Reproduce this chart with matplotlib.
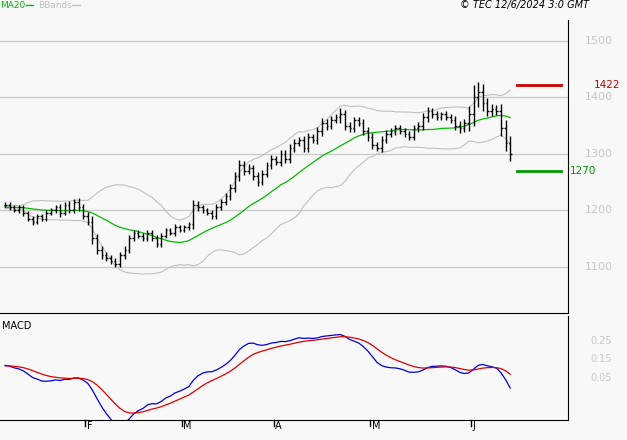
import numpy as np
import matplotlib
matplotlib.use("Agg")
import matplotlib.pyplot as plt

closes = [1210,1205,1200,1205,1195,1185,1180,1190,1185,1195,1200,1205,1195,1210,1200,1215,1205,1190,
          1180,1150,1130,1120,1115,1110,1105,1120,1130,1150,1160,1155,1150,1160,1150,1140,1155,1165,1160,1170,1165,
          1170,1175,1210,1205,1200,1195,1190,1205,1215,1225,1240,1260,1280,1270,1275,1260,1250,1265,1280,1290,
          1285,1300,1290,1310,1320,1325,1310,1330,1325,1340,1355,1350,1360,1365,1370,1350,1345,1360,1355,1340,1330,
          1315,1310,1325,1335,1340,1345,1340,1335,1330,1345,1350,1365,1375,1370,1365,1370,1365,1360,1350,1345,1355,1370,
          1400,1410,1390,1375,1380,1375,1345,1320,1300]
ranges = [14,12,10,12,14,12,16,12,10,14,12,14,18,12,16,14,20,16,
          18,30,22,20,16,14,18,16,18,16,14,12,14,14,12,16,14,12,12,14,12,
          12,14,24,18,14,12,16,18,14,16,18,20,24,22,18,16,20,16,18,20,
          16,20,18,20,18,16,20,18,16,20,24,20,18,16,30,24,18,16,14,18,20,
          18,16,20,18,16,18,16,14,16,18,16,20,24,18,16,14,16,18,20,22,20,40,
          60,50,40,24,22,20,40,45,35]
month_labels = ["F","M","A","M","J"]
month_idx = [18,39,59,80,102]
resistance, support = 1422, 1270

c = np.array(closes, float); r = np.array(ranges, float)
n = len(c); x = np.arange(n)
opens = np.r_[c[0], c[:-1]]
hi = np.maximum(opens, c) + r*0.35; lo = np.minimum(opens, c) - r*0.35

pad = np.r_[np.full(25, c[0]-5), c]
ma = np.array([pad[i-19:i+1].mean() for i in range(25, 25+n)])
sd = np.array([pad[i-19:i+1].std() for i in range(25, 25+n)])
def ema(a, s):
    k = 2/(s+1); o = np.empty_like(a); o[0] = a[0]
    for i in range(1, len(a)): o[i] = o[i-1]*(1-k)+a[i]*k
    return o
pad2 = np.r_[np.linspace(c[0]-80, c[0], 40), c]
macd_full = (ema(pad2,12)-ema(pad2,26))/pad2*11
sig_full = ema(macd_full, 9)
macd = macd_full[40:]; sig = sig_full[40:]

bg = "#f8f8f8"
W, H = 627, 440
fig = plt.figure(figsize=(W/100, H/100), dpi=100, facecolor=bg)
px = lambda x0, y0, w, h: [x0/W, 1-(y0+h)/H, w/W, h/H]
ax = fig.add_axes(px(0, 20, 568, 293), facecolor=bg)
ax2 = fig.add_axes(px(0, 316, 568, 104), facecolor=bg)
step = 4.6; x0 = 1
ax.set_xlim(-x0/step - 0.9, 568/step - 0.9)
ax2.set_xlim(ax.get_xlim())
ax.set_ylim(1018, 1537)
ax2.set_ylim(-0.177, 0.385)

for a in (ax, ax2):
    for s in ["top", "left"]: a.spines[s].set_visible(False)
    a.spines["right"].set_color("black"); a.spines["bottom"].set_color("black")
    a.tick_params(left=False, labelleft=False, right=False, labelright=False, bottom=False, labelbottom=False)

for yv in [1100, 1200, 1300, 1400, 1500]:
    ax.axhline(yv, color="#cccccc", lw=1, zorder=0)
    ax.text(1.03, yv, str(yv), transform=ax.get_yaxis_transform(), color="#c8c8c8", fontsize=8, va="center")
for yv, lab in [(0.05, "0.05"), (0.15, "0.15"), (0.25, "0.25")]:
    ax2.text(1.04, yv, lab, transform=ax2.get_yaxis_transform(), color="#c8c8c8", fontsize=7, va="center")

ax.plot(x, ma+2*sd, color="#c0c0c0", lw=0.8)
ax.plot(x, ma-2*sd, color="#c0c0c0", lw=0.8)
ax.plot(x, ma, color="#00bb00", lw=0.9)
ax.vlines(x, lo, hi, color="black", lw=1)
ax.hlines(opens, x-0.35, x, color="black", lw=1)
ax.hlines(c, x, x+0.35, color="black", lw=1)

ax.plot([n+0.5, n+10], [resistance]*2, color="#cc0000", lw=2, clip_on=False)
ax.text(1.045, resistance, str(resistance), transform=ax.get_yaxis_transform(), color="#cc0000", fontsize=7.5, va="center")
ax.plot([n+0.5, n+10], [support]*2, color="#009900", lw=2, clip_on=False)
ax.text(1.003, support, str(support), transform=ax.get_yaxis_transform(), color="#009900", fontsize=7.5, va="center")

ax2.plot(x, macd, color="#0000dd", lw=0.9)
ax2.plot(x, sig, color="#dd0000", lw=0.9)
ax2.text(0.003, 0.95, "MACD", transform=ax2.transAxes, fontsize=7, va="top")
for mi, ml in zip(month_idx, month_labels):
    ax2.plot([mi-0.5]*2, [-0.177, -0.21], color="black", lw=1, clip_on=False)
    ax2.text(mi-0.2, -0.182, ml, fontsize=7, va="top")

fig.text(0/W, 1-5/H, "MA20", color="#00bb00", fontsize=6.5, va="center")
fig.add_artist(plt.Line2D([26/W, 33/W], [1-5/H]*2, color="#00bb00", lw=1))
fig.text(38/W, 1-5/H, "BBands", color="#c0c0c0", fontsize=6.5, va="center")
fig.add_artist(plt.Line2D([72/W, 80/W], [1-5/H]*2, color="#c0c0c0", lw=1))
fig.text(460/W, 1-5/H, "© TEC 12/6/2024 3:0 GMT", fontsize=7, style="italic", va="center")
fig.savefig("out.png", dpi=100, facecolor=bg)
